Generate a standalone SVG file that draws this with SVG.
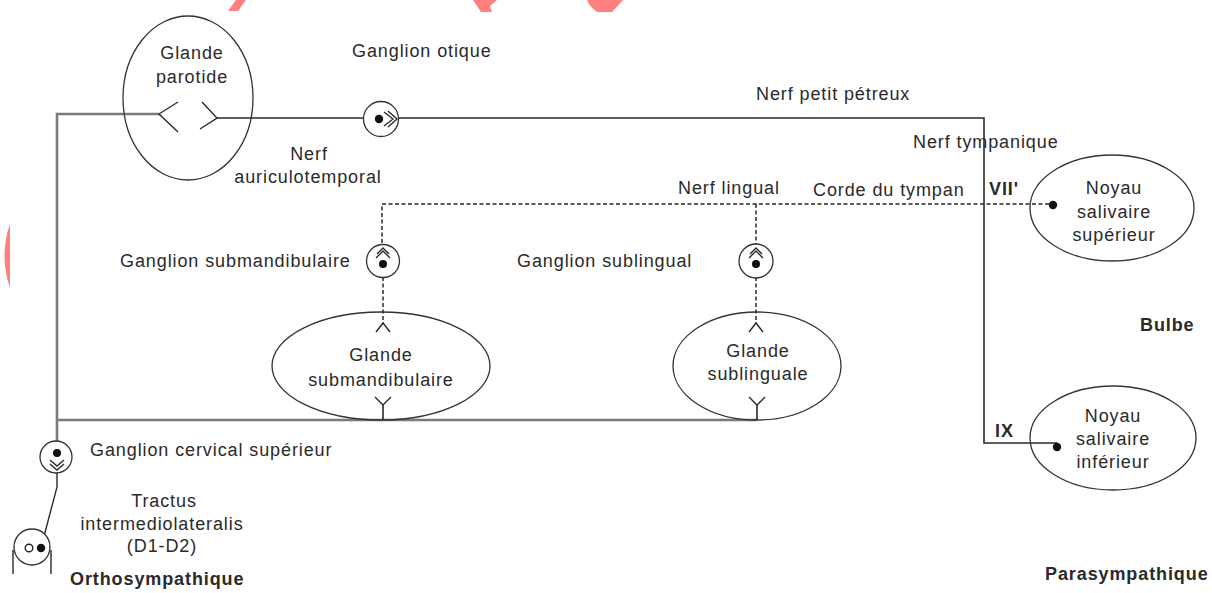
<svg xmlns="http://www.w3.org/2000/svg" width="1212" height="593" viewBox="0 0 1212 593">
<style>
.s{stroke:#2a2a2a;stroke-width:1.6;fill:none}
.g{stroke:#7a7a7a;stroke-width:2.6;fill:none}
.d{stroke:#2a2a2a;stroke-width:1.5;stroke-dasharray:4 2.5;fill:none}
.e{fill:none;stroke:#333;stroke-width:1.3}
.c{fill:#fff;stroke:#333;stroke-width:1.3}
.k{stroke:#2a2a2a;stroke-width:1.4;fill:none}
.dot{fill:#111}
text{font-family:"Liberation Sans",Arial,sans-serif;font-size:18px;letter-spacing:0.9px;fill:#2a2a2a}
.m{text-anchor:middle}
.b{font-weight:bold}
.wm{fill:#ff8080}
</style>
<rect width="1212" height="593" fill="#fff"/>
<g id="watermark">
<polygon class="wm" points="236,0 246,0 238,11 228,11"/>
<polygon class="wm" points="473,0 497,0 490,6 492,12 481,12"/>
<path class="wm" d="M587,0 L623,0 L612,12 L597,12 Q589,6 587,0 Z"/>
<path class="wm" d="M10,224 Q-1,255 10,288 Z"/>
</g>
<g id="connectors">
<polyline class="g" points="159,114 57,114 57,441"/>
<line class="g" x1="57" y1="420" x2="757" y2="420"/>
<line class="s" x1="217" y1="118" x2="364" y2="118"/>
<polyline class="s" points="399,118 984,118 984,443 1057,443"/>
<polyline class="d" points="382,243 382,204 1050,204"/>
<line class="d" x1="756" y1="204" x2="756" y2="244"/>
<line class="d" x1="383" y1="264" x2="383" y2="323"/>
<line class="d" x1="756" y1="264" x2="756" y2="323"/>
<line class="s" x1="383" y1="405" x2="383" y2="420"/>
<line class="s" x1="757" y1="405" x2="757" y2="420"/>
<polyline class="k" points="57,473 57,487 43,540"/>
</g>
<g id="glande-parotide">
<ellipse class="e" cx="188" cy="98" rx="65" ry="82"/>
<polyline class="k" points="178,102 159,114 178,132"/>
<polyline class="k" points="202,102 217,118 200,129"/>
<text class="m" x="192" y="59">Glande</text>
<text class="m" x="192" y="83">parotide</text>
</g>
<g id="ganglion-otique">
<circle class="c" cx="381" cy="119" r="17.5"/>
<circle class="dot" cx="379" cy="119" r="4.2"/>
<polyline class="k" points="384,112 393,119 384,126"/>
<polyline class="k" points="388,111 397,119 388,127"/>
<text x="352" y="57">Ganglion otique</text>
</g>
<g id="labels-nerfs">
<text x="756" y="100">Nerf petit pétreux</text>
<text x="913" y="148">Nerf tympanique</text>
<text class="m" x="309" y="160">Nerf</text>
<text class="m" x="308" y="183">auriculotemporal</text>
<text x="678" y="194">Nerf lingual</text>
<text x="813" y="196">Corde du tympan</text>
<text class="b" x="989" y="195">VII'</text>
<text class="b" x="995" y="437">IX</text>
<text class="b" x="1140" y="331">Bulbe</text>
</g>
<g id="ganglion-submandibulaire">
<circle class="c" cx="383" cy="261" r="16.5"/>
<polyline class="k" points="376,258 383,251 390,258"/>
<polyline class="k" points="377,254 383,248 389,254"/>
<circle class="dot" cx="383" cy="264" r="4"/>
<text x="120" y="267">Ganglion submandibulaire</text>
</g>
<g id="glande-submandibulaire">
<ellipse class="e" cx="381" cy="366" rx="109" ry="54"/>
<polyline class="k" points="376,332 383,323 390,332"/>
<polyline class="k" points="375,397 383,405 391,397"/>
<text class="m" x="381" y="361">Glande</text>
<text class="m" x="381" y="386">submandibulaire</text>
</g>
<g id="ganglion-sublingual">
<circle class="c" cx="756" cy="261" r="17"/>
<polyline class="k" points="749,258 756,251 763,258"/>
<polyline class="k" points="750,254 756,248 762,254"/>
<circle class="dot" cx="756" cy="264" r="4"/>
<text x="517" y="267">Ganglion sublingual</text>
</g>
<g id="glande-sublinguale">
<ellipse class="e" cx="757" cy="366" rx="84" ry="54"/>
<polyline class="k" points="749,332 756,323 763,332"/>
<polyline class="k" points="749,397 757,405 765,397"/>
<text class="m" x="758" y="357">Glande</text>
<text class="m" x="758" y="380">sublinguale</text>
</g>
<g id="noyau-salivaire-superieur">
<ellipse class="e" cx="1112" cy="208" rx="82" ry="53"/>
<circle class="dot" cx="1053" cy="205" r="4.2"/>
<text class="m" x="1114" y="194">Noyau</text>
<text class="m" x="1114" y="218">salivaire</text>
<text class="m" x="1114" y="241">supérieur</text>
</g>
<g id="noyau-salivaire-inferieur">
<ellipse class="e" cx="1113" cy="438" rx="83" ry="52"/>
<circle class="dot" cx="1057" cy="447" r="4.2"/>
<text class="m" x="1113" y="422">Noyau</text>
<text class="m" x="1113" y="445">salivaire</text>
<text class="m" x="1113" y="468">inférieur</text>
</g>
<g id="ganglion-cervical">
<circle class="c" cx="56" cy="457" r="16"/>
<circle class="dot" cx="57" cy="453" r="4"/>
<polyline class="k" points="50,460 57,466 64,460"/>
<polyline class="k" points="50,464 57,470 64,464"/>
<text x="90" y="456">Ganglion cervical supérieur</text>
</g>
<g id="tractus">
<circle class="c" cx="32" cy="547" r="18"/>
<circle cx="29" cy="548" r="3.8" fill="none" stroke="#222" stroke-width="1.4"/>
<circle class="dot" cx="41" cy="548" r="4.2"/>
<line class="k" x1="13" y1="550" x2="13" y2="574"/>
<line class="k" x1="51" y1="550" x2="51" y2="574"/>
<text class="m" x="164" y="507">Tractus</text>
<text class="m" x="162" y="530">intermediolateralis</text>
<text class="m" x="162" y="552">(D1-D2)</text>
</g>
<g id="legend">
<text class="b" x="70" y="585">Orthosympathique</text>
<text class="b" x="1045" y="580">Parasympathique</text>
</g>
</svg>
